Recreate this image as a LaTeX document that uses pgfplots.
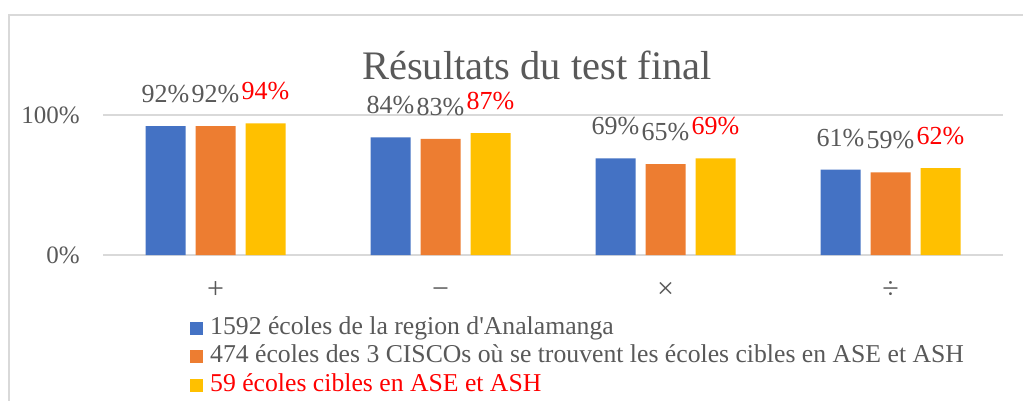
\documentclass[border=0pt]{standalone}
\usepackage{fontspec}
\setmainfont{Liberation Serif}
\usepackage{pgfplots}
\pgfplotsset{compat=1.18}
\definecolor{sblue}{HTML}{4472C4}
\definecolor{sorange}{HTML}{ED7D31}
\definecolor{syellow}{HTML}{FFC000}
\definecolor{txt}{HTML}{595959}
\definecolor{grd}{HTML}{D9D9D9}

\begin{document}
\begin{tikzpicture}[x=1pt,y=1pt]
\path[use as bounding box] (0,0) rectangle (1023,400);
\fill[white] (0,0) rectangle (1023,400);
\draw[grd, line width=2.5pt] (9,-5) -- (9,385) -- (1030,385);
\node[txt, font=\fontsize{40.5}{44}\selectfont] at (537,335) {Résultats du test final};
\begin{axis}[
  at={(103pt,145pt)}, anchor=south west,
  scale only axis, width=900pt, height=140pt,
  xmin=-0.5, xmax=3.5, ymin=0, ymax=100,
  ybar=10pt, bar width=40pt,
  axis line style={draw=none},
  major tick length=0pt,
  ytick={0,100}, yticklabels={0\%,100\%},
  xtick={0,1,2,3}, xticklabels={+,−,×,÷},
  ymajorgrids, grid style={grd, line width=2pt},
  ticklabel style={txt, font=\fontsize{25}{28}\selectfont, inner sep=0pt},
  yticklabel style={xshift=-23pt},
  xticklabel style={font=\fontsize{30}{32}\selectfont, anchor=base, yshift=-43pt},
  /pgf/number format/assume math mode=true,
  nodes near coords={\pgfmathprintnumber{\pgfplotspointmeta}\%},
  every node near coord/.append style={txt, font=\fontsize{26}{28}\selectfont, inner sep=0pt, anchor=south, yshift=23pt},
  clip=false,
  legend style={at={(axis description cs:0.0967,-0.4286)}, anchor=north west,
    draw=none, fill=none, inner sep=0pt, text=txt,
    font=\fontsize{25.7}{28}\selectfont,
    nodes={inner sep=0pt, text height=19pt, text depth=7pt},
    row sep=2.5pt,
    /tikz/every odd column/.append style={column sep=7pt}},
  legend cell align=left,
  legend image code/.code={\fill[#1, draw=none] (0pt,-6.5pt) rectangle (13pt,6.5pt);},
]
\addplot[fill=sblue, draw=none] coordinates {(0,92) (1,84) (2,69) (3,61)};
\addplot[fill=sorange, draw=none] coordinates {(0,92) (1,83) (2,65) (3,59)};
\addplot[fill=syellow, draw=none, every node near coord/.append style={text=red}] coordinates {(0,94) (1,87) (2,69) (3,62)};
\legend{1592 écoles de la region d\textquotesingle Analamanga,
  474 écoles des 3 CISCOs où se trouvent les écoles cibles en ASE et ASH,
  \textcolor{red}{59 écoles cibles en ASE et ASH}}
\end{axis}
\end{tikzpicture}
\end{document}
